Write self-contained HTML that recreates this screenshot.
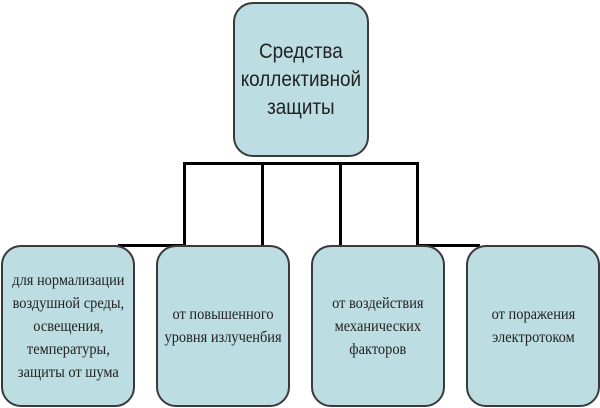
<!DOCTYPE html>
<html><head><meta charset="utf-8"><style>
body{margin:0;width:600px;height:408px;background:#fff;position:relative;overflow:hidden;font-family:"Liberation Sans",sans-serif}
.b{position:absolute;background:#bcdde2;border:2px solid #3a3a3a;border-radius:20px;box-sizing:border-box;display:flex;align-items:center;justify-content:center;text-align:center;color:#222}
.s{font-size:16px;line-height:23px;font-family:"Liberation Serif",serif;transform:scaleX(.9);white-space:nowrap}
.l{position:absolute;background:#000}
</style></head><body>
<div class="l" style="left:183px;top:162px;width:236px;height:3px"></div>
<div class="l" style="left:183px;top:162px;width:3px;height:85px"></div>
<div class="l" style="left:261px;top:162px;width:3px;height:85px"></div>
<div class="l" style="left:339px;top:162px;width:3px;height:85px"></div>
<div class="l" style="left:416px;top:162px;width:3px;height:85px"></div>
<div class="l" style="left:118px;top:244px;width:68px;height:3px"></div>
<div class="l" style="left:416px;top:244px;width:64px;height:3px"></div>
<div class="b" style="left:233px;top:2px;width:136px;height:155px"><span style="font-size:21px;line-height:28px;transform:scaleX(.9);white-space:nowrap">Средства<br>коллективной<br>защиты</span></div>
<div class="b" style="left:1px;top:245px;width:134px;height:162px"><span class="s">для нормализации<br>воздушной среды,<br>освещения,<br>температуры,<br>защиты от шума</span></div>
<div class="b" style="left:156px;top:245px;width:134px;height:162px"><span class="s">от повышенного<br>уровня излученбия</span></div>
<div class="b" style="left:311px;top:245px;width:134px;height:162px"><span class="s">от воздействия<br>механических<br>факторов</span></div>
<div class="b" style="left:466px;top:245px;width:134px;height:162px"><span class="s">от поражения<br>электротоком</span></div>
</body></html>
